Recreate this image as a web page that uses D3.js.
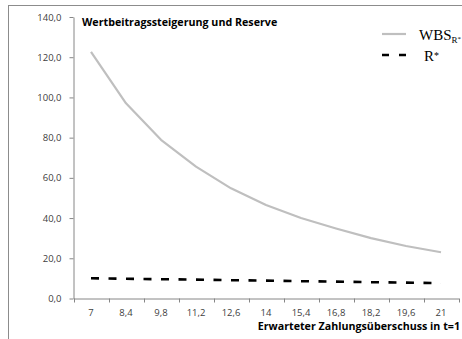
<!DOCTYPE html>
<html>
<head>
<meta charset="utf-8">
<script src="https://cdn.jsdelivr.net/npm/d3@7"></script>
<style>
  body { margin: 0; background: #fff; }
  svg { display: block; }
</style>
</head>
<body>
<svg width="462" height="339"></svg>
<script>
// Erwarteter Zahlungsüberschuss in t=1
const categories = [7, 8.4, 9.8, 11.2, 12.6, 14, 15.4, 16.8, 18.2, 19.6, 21];
// WBS_R* (gray solid line)
const wbsValues = [122.6, 97.1, 78.9, 65.6, 54.8, 46.5, 40.0, 34.8, 30.0, 26.1, 23.0];
// R* (black dashed line)
const reserveValues = [10.1, 9.8, 9.6, 9.4, 9.1, 8.9, 8.6, 8.4, 8.1, 7.9, 7.6];
const yTicks = [0, 20, 40, 60, 80, 100, 120, 140];

const svg = d3.select("svg");
const plot = {left: 73.5, right: 458.5, top: 17, bottom: 298.5};

const locale = d3.formatLocale({decimal: ",", thousands: ".", grouping: [3], currency: ["", " €"]});
const fmtY = locale.format(".1f");
const fmtX = d => String(d).replace(".", ",");

// outer chart frame
svg.append("rect")
    .attr("x", 8.5).attr("y", 5.5)
    .attr("width", 520).attr("height", 400)
    .attr("fill", "none")
    .attr("stroke", "#8c8c8c");

const x = d3.scaleBand()
    .domain(categories)
    .range([plot.left, plot.right]);

const y = d3.scaleLinear()
    .domain([0, 140])
    .range([plot.bottom, plot.top]);

// y axis
const yAxis = svg.append("g")
    .attr("transform", `translate(${plot.left},0)`)
    .call(d3.axisLeft(y).tickValues(yTicks).tickFormat(fmtY).tickSizeInner(4).tickSizeOuter(0).tickPadding(8));
yAxis.select(".domain").attr("stroke", "#868686");
yAxis.selectAll(".tick line").attr("stroke", "#868686");
yAxis.selectAll("text")
    .attr("fill", "#404040")
    .style("font-family", "Open Sans")
    .style("font-size", "9.5px");

// x axis: labels in band centre, ticks at the band edges
const xAxis = svg.append("g")
    .attr("transform", `translate(0,${plot.bottom})`)
    .call(d3.axisBottom(x).tickFormat(fmtX).tickSize(0).tickPadding(11));
xAxis.select(".domain").attr("stroke", "#868686");
xAxis.selectAll("text")
    .attr("fill", "#404040")
    .style("font-family", "Open Sans")
    .style("font-size", "9.5px");
xAxis.selectAll(".edge")
    .data(categories.map(d => x(d)).concat([x.range()[1]]))
    .enter().append("line")
    .attr("class", "edge")
    .attr("x1", d => Math.round(d) + 0.5).attr("x2", d => Math.round(d) + 0.5)
    .attr("y1", 0).attr("y2", 4)
    .attr("stroke", "#868686");

const cx = d => x(d) + x.bandwidth() / 2;

// lines
const line = d3.line()
    .x((d, i) => cx(categories[i]))
    .y(d => y(d));

svg.append("path")
    .datum(wbsValues)
    .attr("d", line)
    .attr("fill", "none")
    .attr("stroke", "#bfbfbf")
    .attr("stroke-width", 2.2)
    .attr("stroke-linejoin", "round");

svg.append("path")
    .datum(reserveValues)
    .attr("d", line)
    .attr("fill", "none")
    .attr("stroke", "#000")
    .attr("stroke-width", 2.6)
    .attr("stroke-dasharray", "8,9.5");

// title
svg.append("text")
    .attr("x", 82).attr("y", 26)
    .attr("fill", "#000")
    .style("font-family", "Open Sans")
    .style("font-size", "10.7px")
    .style("font-weight", "bold")
    .text("Wertbeitragssteigerung und Reserve");

// x axis title
svg.append("text")
    .attr("x", 460).attr("y", 330)
    .attr("text-anchor", "end")
    .attr("fill", "#000")
    .style("font-family", "Open Sans")
    .style("font-size", "10.7px")
    .style("font-weight", "bold")
    .text("Erwarteter Zahlungsüberschuss in t=1");

// legend
const legend = svg.append("g");
legend.append("line")
    .attr("x1", 382).attr("x2", 406).attr("y1", 34).attr("y2", 34)
    .attr("stroke", "#bfbfbf").attr("stroke-width", 2.2);
legend.append("line")
    .attr("x1", 382).attr("x2", 406).attr("y1", 55).attr("y2", 55)
    .attr("stroke", "#000").attr("stroke-width", 2.6)
    .attr("stroke-dasharray", "7,10");

const wbsLabel = legend.append("text")
    .attr("x", 419).attr("y", 40)
    .style("font-family", "Liberation Serif")
    .style("font-size", "15px");
wbsLabel.append("tspan").text("WBS");
wbsLabel.append("tspan")
    .attr("dy", 3)
    .style("font-size", "9px")
    .text("R");
wbsLabel.append("tspan")
    .attr("dy", -2)
    .style("font-size", "7px")
    .text("*");

const rLabel = legend.append("text")
    .attr("x", 424).attr("y", 61)
    .style("font-family", "Liberation Serif")
    .style("font-size", "15px");
rLabel.append("tspan").text("R");
rLabel.append("tspan")
    .attr("dy", -2)
    .style("font-size", "10px")
    .text("*");
</script>
</body>
</html>
